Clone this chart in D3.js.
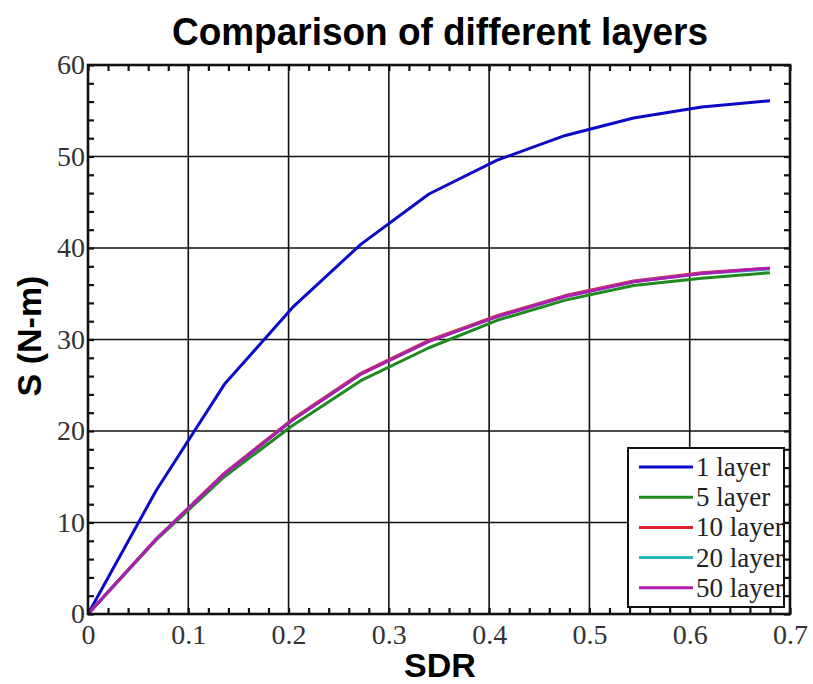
<!DOCTYPE html>
<html>
<head>
<meta charset="utf-8">
<script src="https://cdn.jsdelivr.net/npm/d3@7"></script>
<style>
  body { margin: 0; background: #fff; }
  svg { display: block; }
</style>
</head>
<body>
<div id="chart"></div>
<script>
// DATA
const sdr = [0, 0.068, 0.136, 0.204, 0.272, 0.34, 0.408, 0.476, 0.544, 0.612, 0.68];
const layer1  = [0, 13.5, 25.1, 33.5, 40.4, 45.9, 49.6, 52.3, 54.2, 55.4, 56.1];
const layer5  = [0, 8.1, 15.0, 20.6, 25.5, 29.1, 32.1, 34.3, 35.9, 36.7, 37.3];
const layer10 = [0, 8.2, 15.4, 21.3, 26.3, 29.9, 32.6, 34.8, 36.4, 37.3, 37.8];
const layer20 = [0, 8.2, 15.3, 21.2, 26.2, 29.8, 32.5, 34.7, 36.3, 37.2, 37.7];
const layer50 = [0, 8.2, 15.3, 21.2, 26.2, 29.8, 32.5, 34.7, 36.3, 37.2, 37.8];
const seriesNames = ["1 layer", "5 layer", "10 layer", "20 layer", "50 layer"];
const seriesValues = [layer1, layer5, layer10, layer20, layer50];
const seriesColors = ["#0a0ac8", "#1f8a1f", "#e0202a", "#26b8b8", "#b01cb0"];
const xTicks = [0, 0.1, 0.2, 0.3, 0.4, 0.5, 0.6, 0.7];
const yTicks = [0, 10, 20, 30, 40, 50, 60];

const width = 813, height = 684;
const margin = { top: 65, right: 23, bottom: 70, left: 88 };

const svg = d3.select("#chart").append("svg")
  .attr("width", width)
  .attr("height", height);

// SCALES
const x = d3.scaleLinear().domain([0, 0.7]).range([margin.left, width - margin.right]);
const y = d3.scaleLinear().domain([0, 60]).range([height - margin.bottom, margin.top]);

const x0 = x.range()[0], x1 = x.range()[1], y0 = y.range()[0], y1 = y.range()[1];

// grid
svg.append("g")
  .selectAll("line.vx")
  .data(xTicks.slice(1, -1))
  .join("line")
  .attr("x1", d => x(d)).attr("x2", d => x(d))
  .attr("y1", y0).attr("y2", y1)
  .attr("stroke", "#111").attr("stroke-width", 1.6);

svg.append("g")
  .selectAll("line.hy")
  .data(yTicks.slice(1, -1))
  .join("line")
  .attr("x1", x0).attr("x2", x1)
  .attr("y1", d => y(d)).attr("y2", d => y(d))
  .attr("stroke", "#111").attr("stroke-width", 1.6);

// LINES
const line = d3.line()
  .x((d, i) => x(sdr[i]))
  .y(d => y(d));

svg.append("g")
  .selectAll("path")
  .data(seriesValues)
  .join("path")
  .attr("d", d => line(d))
  .attr("fill", "none")
  .attr("stroke", (d, i) => seriesColors[i])
  .attr("stroke-width", 3)
  .attr("stroke-linejoin", "round");

// LEGEND
const lg = svg.append("g");
lg.append("rect")
  .attr("x", 628).attr("y", 448)
  .attr("width", 156).attr("height", 159)
  .attr("fill", "white")
  .attr("stroke", "#111")
  .attr("stroke-width", 2);

seriesNames.forEach((name, i) => {
  const ly = 467 + i * 30.2;
  lg.append("line")
    .attr("x1", 639).attr("x2", 693)
    .attr("y1", ly).attr("y2", ly)
    .attr("stroke", seriesColors[i])
    .attr("stroke-width", 3);
  lg.append("text")
    .attr("x", 696).attr("y", ly + 9)
    .attr("font-family", "'Liberation Serif', 'Times New Roman', serif")
    .attr("font-size", 27)
    .attr("fill", "#222")
    .text(name);
});

// MINOR TICKS (inward, all four sides)
const xMinor = d3.range(0, 0.7001, 0.02);
const yMinor = d3.range(0, 60.001, 2);

svg.append("g")
  .attr("transform", `translate(0,${y0})`)
  .call(d3.axisBottom(x).tickValues(xMinor).tickSize(-6).tickSizeOuter(0).tickFormat(""))
  .call(g => g.select(".domain").remove());
svg.append("g")
  .attr("transform", `translate(0,${y1})`)
  .call(d3.axisTop(x).tickValues(xMinor).tickSize(-6).tickSizeOuter(0).tickFormat(""))
  .call(g => g.select(".domain").remove());
svg.append("g")
  .attr("transform", `translate(${x0},0)`)
  .call(d3.axisLeft(y).tickValues(yMinor).tickSize(-6).tickSizeOuter(0).tickFormat(""))
  .call(g => g.select(".domain").remove());
svg.append("g")
  .attr("transform", `translate(${x1},0)`)
  .call(d3.axisRight(y).tickValues(yMinor).tickSize(-6).tickSizeOuter(0).tickFormat(""))
  .call(g => g.select(".domain").remove());

svg.selectAll(".tick line").attr("stroke", "#111").attr("stroke-width", 2.2);

// frame
svg.append("rect")
  .attr("x", x0).attr("y", y1)
  .attr("width", x1 - x0).attr("height", y0 - y1)
  .attr("fill", "none")
  .attr("stroke", "#111")
  .attr("stroke-width", 2.6);

// tick labels
const serif = "'Liberation Serif', 'Times New Roman', serif";
const xAxis = svg.append("g")
  .attr("transform", `translate(0,${y0})`)
  .call(d3.axisBottom(x).tickValues(xTicks).tickSize(0).tickPadding(10).tickFormat(d => d === 0 ? "0" : d3.format(".1f")(d)));
xAxis.select(".domain").remove();
xAxis.selectAll("text")
  .attr("font-family", serif)
  .attr("font-size", 28)
  .attr("fill", "#333");

const yAxis = svg.append("g")
  .attr("transform", `translate(${x0},0)`)
  .call(d3.axisLeft(y).tickValues(yTicks).tickSize(0).tickPadding(3).tickFormat(d3.format("d")));
yAxis.select(".domain").remove();
yAxis.selectAll("text")
  .attr("font-family", serif)
  .attr("font-size", 28)
  .attr("fill", "#333");

// TITLES
const sans = "'Liberation Sans', Arial, sans-serif";
svg.append("text")
  .attr("x", 440).attr("y", 45)
  .attr("text-anchor", "middle")
  .attr("font-family", sans)
  .attr("font-weight", "bold")
  .attr("font-size", 38)
  .attr("textLength", 536)
  .attr("lengthAdjust", "spacingAndGlyphs")
  .text("Comparison of different layers");

svg.append("text")
  .attr("x", 440).attr("y", 677)
  .attr("text-anchor", "middle")
  .attr("font-family", sans)
  .attr("font-weight", "bold")
  .attr("font-size", 34)
  .text("SDR");

svg.append("text")
  .attr("transform", "translate(41,336) rotate(-90)")
  .attr("text-anchor", "middle")
  .attr("font-family", sans)
  .attr("font-weight", "bold")
  .attr("font-size", 34)
  .text("S (N-m)");
</script>
</body>
</html>
